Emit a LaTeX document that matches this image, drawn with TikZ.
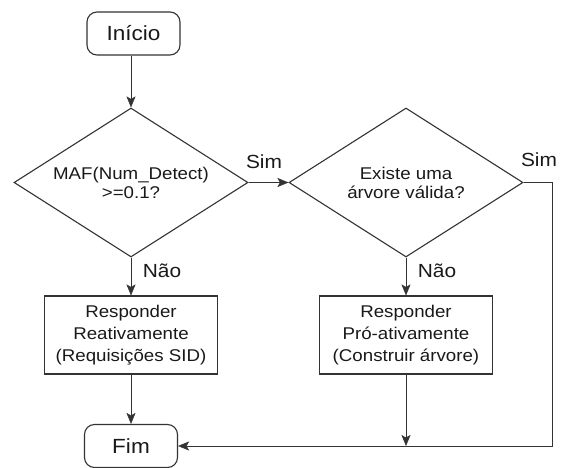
\documentclass[tikz,border=0pt]{standalone}
\usepackage{fontspec}
\setmainfont[FakeStretch=1.1]{Liberation Sans}
\usetikzlibrary{shapes.geometric,arrows.meta}
\pgfdeclarelayer{bg}
\pgfsetlayers{bg,main}
\tikzset{
    every node/.style={inner sep=0pt, text=black!90}
}
\tikzset{
    terminal/.style={draw=black!80, rounded corners=10pt, minimum width=93pt, minimum height=43pt, font=\fontsize{20.5}{24}\selectfont},
    decision/.style={draw=black!80, diamond, aspect=1.57, minimum width=234pt, minimum height=149pt, align=center, font=\fontsize{17}{19}\selectfont},
    process/.style={draw=black!80, rectangle, minimum width=173pt, minimum height=78pt, align=center, font=\fontsize{17}{22}\selectfont},
    rotulo/.style={font=\fontsize{19}{22}\selectfont},
    seta/.style={draw=black!80, -{Stealth[length=11pt,width=9pt,inset=2.5pt]}}
}
\begin{document}
\begin{tikzpicture}[x=1pt, y=-1pt, line width=1.1pt]
        \useasboundingbox (0,0) rectangle (563,468);
        \node (inicio) [terminal] at (133.5,33.5) {Início};
        \node (maf) [decision] at (131,182.5) {MAF(Num\_Detect)\\>=0.1?};
        \node (arvore) [decision] at (406,182.5) {Existe uma\\árvore válida?};
        \node (reativo) [process] at (131,335) {Responder\\Reativamente\\(Requisições SID)};
        \node (proativo) [process] at (406,335) {Responder\\Pró-ativamente\\(Construir árvore)};
        \node (fim) [terminal] at (131,446) {Fim};
        \coordinate (canto) at (552,446);
        \node (sim1) [rotulo] at (264,162) {Sim};
        \node (sim2) [rotulo] at (539,160) {Sim};
        \node (nao1) [rotulo] at (162,271) {Não};
        \node (nao2) [rotulo] at (437,271) {Não};
        \begin{pgfonlayer}{bg}
                \draw (inicio.south -| maf) edge [seta] (maf.north);
                \draw (maf.east) edge [seta] (arvore.west);
                \draw (maf.south) edge [seta] (reativo.north);
                \draw (arvore.south) edge [seta] (proativo.north);
                \draw (reativo.south) edge [seta] (fim.north);
                \draw (proativo.south) edge [seta] (proativo |- canto);
                \draw [seta] (arvore.east) -| (canto) -- (fim.east);
        \end{pgfonlayer}
\end{tikzpicture}
\end{document}
